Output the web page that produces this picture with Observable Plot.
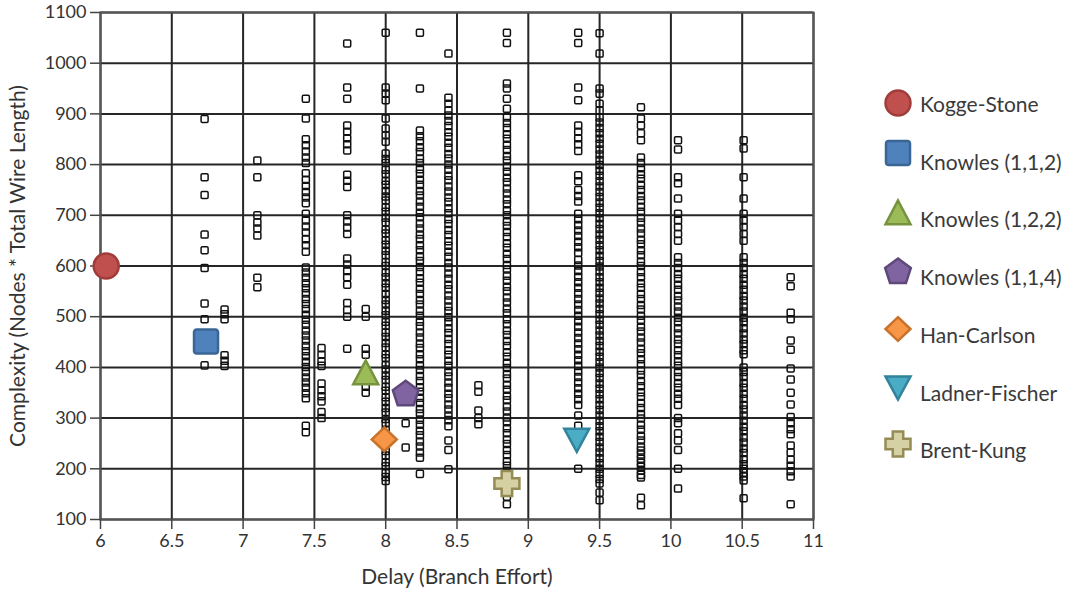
<!DOCTYPE html>
<html><head><meta charset="utf-8">
<script src="https://cdn.jsdelivr.net/npm/d3@7"></script>
<script src="https://cdn.jsdelivr.net/npm/@observablehq/plot@0.6"></script>
<style>
body{margin:0;background:#fff;font-family:Lato,"Open Sans",sans-serif;}
#wrap{position:relative;width:1073px;height:592px;overflow:hidden;}
.lgm{position:absolute;left:882px;}
.lgt{position:absolute;left:920px;font-size:21px;line-height:24px;color:#3a3a3a;white-space:nowrap;}
</style></head>
<body><div id="wrap"></div>
<script>
// ---- data ----
const xTicks = [6, 6.5, 7, 7.5, 8, 8.5, 9, 9.5, 10, 10.5, 11];
const yTicks = [100, 200, 300, 400, 500, 600, 700, 800, 900, 1000, 1100];

const colX = [6.73, 6.87, 7.10, 7.44, 7.55, 7.73, 7.86, 8.0, 8.14, 8.24, 8.44, 8.65, 8.85, 9.35, 9.5, 9.79, 10.05, 10.51, 10.84];
const c01 = [890,775,740,662,631,596,526,495,404];
const c02 = [514,505,495,424,413,403];
const c03 = [808,775,700,686,674,660,577,558];
const c04 = [930,891,850,838,826,814,803,783,770,758,746,735,724,703,690,678,666,653,641,628,
  597,587,577,566,556,546,535,525,515,504,494,484,473,463,453,442,432,422,411,401,391,380,370,360,349,339,285,272];
const c05 = [438,425,412,403,368,355,343,333,312,300];
const c06 = [1039,952,930,877,865,852,840,828,780,768,756,700,688,676,663,615,603,590,578,563,527,513,500,437];
const c07 = [515,500,437,425,362,350];
const c08 = [1060,952,940,927,891,871,858,845,
  822,811,803,790,781,768,760,748,737,729,716,707,695,686,672,664,651,642,630,621,608,600,587,578,566,557,545,533,524,512,503,490,482,469,460,448,439,426,418,405,396,384,375,362,354,341,332,320,311,298,290,277,268,256,247,235,226,213,205,192,184,176];
const c09 = [290,242];
const c10 = [1060,950,
  867,856,846,834,825,812,803,791,782,770,760,748,739,727,717,705,696,684,674,662,653,641,631,619,610,598,588,576,567,555,545,533,524,512,502,490,481,469,459,447,438,426,416,404,395,383,373,361,352,340,330,318,309,297,287,275,266,254,244,232,222,190];
const c11 = [1019,932,920,907,
  897,886,876,864,855,843,833,821,812,800,790,778,769,757,747,735,726,714,704,692,683,671,661,649,640,628,618,606,597,585,575,563,554,542,532,520,511,499,489,477,468,456,446,434,425,413,403,391,382,370,360,348,339,327,317,305,296,284,256,237,199];
const c12 = [365,352,315,300,288];
const c13 = [1060,1040,960,950,930,910,
  893,882,872,860,851,839,829,817,808,796,786,774,765,753,743,731,722,710,700,688,679,667,657,645,636,624,614,602,593,581,571,559,550,538,528,516,507,495,485,473,464,452,442,430,421,409,399,387,378,366,356,344,335,323,313,301,292,280,270,258,249,237,227,215,206,196,188,145,130];
const c14 = [1060,1040,952,927,877,865,852,840,827,779,767,750,738,727,
  703,692,681,670,659,648,637,626,
  612,601,590,579,568,557,546,535,524,513,502,491,480,469,458,447,436,425,414,403,392,381,370,359,348,337,326,305,285,200];
const c15 = [1059,1019,950,940,920,907,
  893,883,872,862,851,841,830,820,809,799,788,778,767,757,746,736,725,715,704,694,683,673,662,652,641,631,620,610,599,589,578,568,557,547,536,526,515,505,494,484,473,463,452,442,431,421,410,400,389,379,368,358,347,337,326,316,305,295,284,274,263,253,242,232,221,211,200,190,180,171,153,138];
const c16 = [913,891,877,862,848,
  814,803,793,781,772,760,750,738,729,717,707,695,686,674,664,652,643,631,621,609,600,588,578,566,557,545,535,523,514,502,492,480,471,459,449,437,428,416,406,394,385,373,363,351,342,330,320,308,299,287,277,265,256,244,236,228,220,212,204,196,188,183,143,128];
const c17 = [848,830,775,763,733,703,690,677,663,650,
  617,606,596,584,575,563,553,541,532,520,510,498,489,477,467,455,446,434,424,412,403,391,381,369,360,348,338,326,300,290,270,256,237,200,161];
const c18 = [848,832,775,733,703,690,677,663,650,
  617,606,596,584,575,563,553,541,532,520,510,498,489,477,467,455,446,434,426,400,391,381,369,360,348,338,326,317,305,295,283,274,262,252,240,231,219,209,200,192,185,177,142];
const c19 = [578,560,508,495,453,435,398,376,350,327,302,290,278,268,246,232,218,206,195,185,130];
const columns = [c01,c02,c03,c04,c05,c06,c07,c08,c09,c10,c11,c12,c13,c14,c15,c16,c17,c18,c19];

const adderNames = ["Kogge-Stone", "Knowles (1,1,2)", "Knowles (1,2,2)", "Knowles (1,1,4)", "Han-Carlson", "Ladner-Fischer", "Brent-Kung"];
const adderX = [6.04, 6.74, 7.86, 8.14, 7.99, 9.34, 8.85];
const adderY = [600, 451, 389, 349, 258, 258, 171];
const adderFill = ["#c0504d", "#4f81bd", "#9bbb59", "#8064a2", "#f79646", "#4bacc6", "#d6d1a5"];
const adderStroke = ["#a03c3a", "#3a6696", "#76923c", "#5f497a", "#c8722c", "#31849b", "#958c55"];

// ---- symbols ----
const half = s => Math.sqrt(s / Math.PI);
const symCircle = {draw(c, s){ const h = half(s) - 1; c.moveTo(h, 0); c.arc(0, 0, h, 0, 2*Math.PI); c.closePath(); }};
const symSquare = {draw(c, s){ const h = half(s) - 1.5, r = 2.5;
  c.moveTo(-h + r, -h); c.lineTo(h - r, -h); c.arcTo(h, -h, h, -h + r, r); c.lineTo(h, h - r); c.arcTo(h, h, h - r, h, r);
  c.lineTo(-h + r, h); c.arcTo(-h, h, -h, h - r, r); c.lineTo(-h, -h + r); c.arcTo(-h, -h, -h + r, -h, r); c.closePath(); }};
const symBox = {draw(c, s){ const h = half(s) * 0.9, r = 1.2;
  c.moveTo(-h + r, -h); c.lineTo(h - r, -h); c.arcTo(h, -h, h, -h + r, r); c.lineTo(h, h - r); c.arcTo(h, h, h - r, h, r);
  c.lineTo(-h + r, h); c.arcTo(-h, h, -h, h - r, r); c.lineTo(-h, -h + r); c.arcTo(-h, -h, -h + r, -h, r); c.closePath(); }};
const symTriUp = {draw(c, s){ const h = half(s) - 1; c.moveTo(0, -h); c.lineTo(h, h*0.9); c.lineTo(-h, h*0.9); c.closePath(); }};
const symTriDown = {draw(c, s){ const h = half(s) - 1; c.moveTo(0, h); c.lineTo(h, -h*0.85); c.lineTo(-h, -h*0.85); c.closePath(); }};
const symPent = {draw(c, s){ const h = half(s); for (let k = 0; k < 5; k++){ const a = -Math.PI/2 + k*2*Math.PI/5; const px = h*Math.cos(a), py = h*Math.sin(a) + h*0.08; k ? c.lineTo(px, py) : c.moveTo(px, py);} c.closePath(); }};
const symDiamond = {draw(c, s){ const h = half(s) - 1; c.moveTo(0, -h*0.95); c.lineTo(h, 0); c.lineTo(0, h*0.95); c.lineTo(-h, 0); c.closePath(); }};
const symCross = {draw(c, s){ const h = half(s) - 1, a = h*0.42;
  c.moveTo(-a, -h); c.lineTo(a, -h); c.lineTo(a, -a); c.lineTo(h, -a); c.lineTo(h, a); c.lineTo(a, a); c.lineTo(a, h);
  c.lineTo(-a, h); c.lineTo(-a, a); c.lineTo(-h, a); c.lineTo(-h, -a); c.lineTo(-a, -a); c.closePath(); }};
const adderSym = [symCircle, symSquare, symTriUp, symPent, symDiamond, symTriDown, symCross];

const pts = columns.flatMap((ys, i) => ys.map(y => ({x: colX[i], y})));
const adders = adderNames.map((n, i) => ({name: n, x: adderX[i], y: adderY[i]}));

const grid = {stroke: "#262626", strokeOpacity: 1, strokeWidth: 2};
const chart = Plot.plot({
  width: 1073, height: 592,
  marginLeft: 100, marginRight: 260, marginTop: 12, marginBottom: 73,
  x: {domain: [6, 11]},
  y: {domain: [100, 1100]},
  style: {fontFamily: "Lato, sans-serif", fontSize: "18px", color: "#333", background: "#fff", overflow: "visible"},
  marks: [
    Plot.gridX(xTicks, grid),
    Plot.gridY(yTicks, grid),
    Plot.frame({stroke: "#555", strokeWidth: 2}),
    Plot.axisX(xTicks, {tickSize: 10, tickPadding: 5, stroke: "#444", strokeWidth: 1.5, tickFormat: d => String(d),
      label: "Delay (Branch Effort)", labelAnchor: "center", labelArrow: "none", labelOffset: 64}),
    Plot.axisY(yTicks, {tickSize: 10, tickPadding: 4, stroke: "#444", strokeWidth: 1.5, tickFormat: d => String(d),
      label: "Complexity (Nodes * Total Wire Length)", labelAnchor: "center", labelArrow: "none", labelOffset: 90}),
    Plot.dot(pts, {x: "x", y: "y", symbol: symBox, r: 3.9, fill: "none", stroke: "#111", strokeWidth: 1.5}),
    ...adders.map((d, i) => Plot.dot([d], {x: "x", y: "y", symbol: adderSym[i], r: 13.5,
      fill: adderFill[i], stroke: adderStroke[i], strokeWidth: 2.5}))
  ]
});
chart.querySelectorAll('[aria-label="x-axis label"], [aria-label="y-axis label"]').forEach(g => g.style.fontSize = "21px");
const wrap = document.getElementById("wrap");
wrap.appendChild(chart);

// ---- legend (HTML beside the chart) ----
adderNames.forEach((n, i) => {
  const labelY = 104 + i * 57.7;
  const markY = labelY - (i === 0 ? 1 : i === 1 ? 9 : 6);
  const svg = d3.create("svg").attr("class", "lgm").attr("width", 32).attr("height", 32)
    .style("top", (markY - 16) + "px");
  svg.append("path").attr("transform", "translate(16,16)")
    .attr("d", d3.symbol(adderSym[i], Math.PI * 13.5 * 13.5)())
    .attr("fill", adderFill[i]).attr("stroke", adderStroke[i]).attr("stroke-width", 2.5);
  wrap.appendChild(svg.node());
  const sp = document.createElement("div");
  sp.className = "lgt";
  sp.textContent = n;
  sp.style.top = (labelY - 12) + "px";
  wrap.appendChild(sp);
});
</script></body></html>
